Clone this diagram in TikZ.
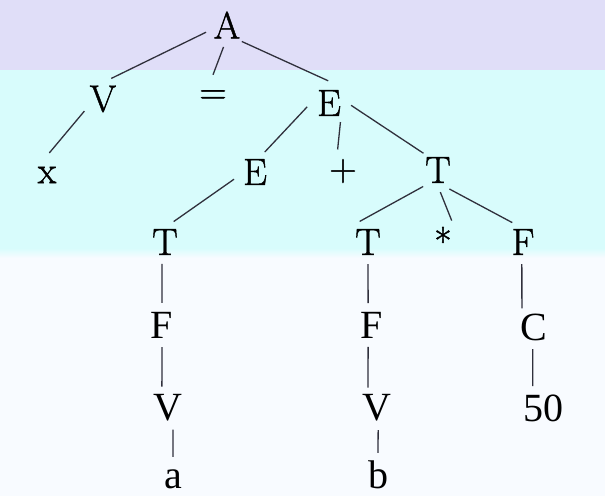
\documentclass[tikz,border=0pt]{standalone}
\usepackage{fontspec}
\newfontfamily\cmfont[FakeBold=1.2]{Latin Modern Roman}
\newfontfamily\timesfont{Liberation Serif}
\definecolor{lavband}{RGB}{224,222,248}
\definecolor{cyanband}{RGB}{216,252,252}
\definecolor{paleband}{RGB}{248,251,255}
\definecolor{edgegray}{RGB}{48,48,60}
\begin{document}
\begin{tikzpicture}[x=1pt,y=-1pt,sym/.style={circle,minimum size=44pt,inner sep=0pt,font=\fontsize{38}{40}\selectfont\cmfont},lowsym/.style={sym,font=\fontsize{40}{42}\selectfont\timesfont},branch/.style={draw=edgegray,line width=1.3pt}]
            \fill[lavband] (0,0) rectangle (605,70);
            \fill[cyanband] (0,70) rectangle (605,250);
            \shade[top color=cyanband,bottom color=paleband] (0,248) rectangle (605,258);
            \fill[paleband] (0,258) rectangle (605,496);
            \useasboundingbox (0,0) rectangle (605,496);
            \begin{scope}[every node/.style={sym}]
              \node (A) at (227,25) {A};
              \node (V1) at (103,99) {V};
              \node (eq) at (213,97) {=};
              \node (E1) at (329,103) {E};
              \node (x) at (47,175) {x};
              \node (E2) at (255,172) {E};
              \node (plus) at (343,171) {+};
              \node (T1) at (438,170) {T};
              \node (T2) at (165,242) {T};
              \node (T3) at (368,242) {T};
              \node (star) at (443,241) {*};
              \node (F1) at (523,242) {F};
            \end{scope}
            \begin{scope}[every node/.style={lowsym}]
              \node (F2) at (162,325) {F};
              \node (F3) at (372,325) {F};
              \node (C) at (534,327) {C};
              \node (V2) at (168,408) {V};
              \node (V3) at (377,408) {V};
              \node (fifty) at (543,408) {50};
              \node (a) at (173,479) {a};
              \node (b) at (378,475) {b};
            \end{scope}
            \begin{scope}[every path/.style={branch}]
              \draw (A.199) -- (V1.68);
              \draw (A.261) -- (eq.90);
              \draw (A.312) -- (E1.92);
              \draw (V1.213) -- (x.84);
              \draw (E1.190) -- (E2.64);
              \draw (E1.301) -- (plus.104);
              \draw (E1.354) -- (T1.131);
              \draw (E2.199) -- (T2.67);
              \draw (T1.228) -- (T3.112);
              \draw (T1.276) -- (star.67);
              \draw (T1.301) -- (F1.119);
              \draw (T2.262) -- (F2.90);
              \draw (F2.270) -- (V2.106);
              \draw (V2.283) -- (a.90);
              \draw (T3.270) -- (F3.100);
              \draw (F3.260) -- (V3.114);
              \draw (V3.273) -- (b.90);
              \draw (F1.267) -- (C.123);
              \draw (C.267) -- (fifty.115);
            \end{scope}
          \end{tikzpicture}
\end{document}
